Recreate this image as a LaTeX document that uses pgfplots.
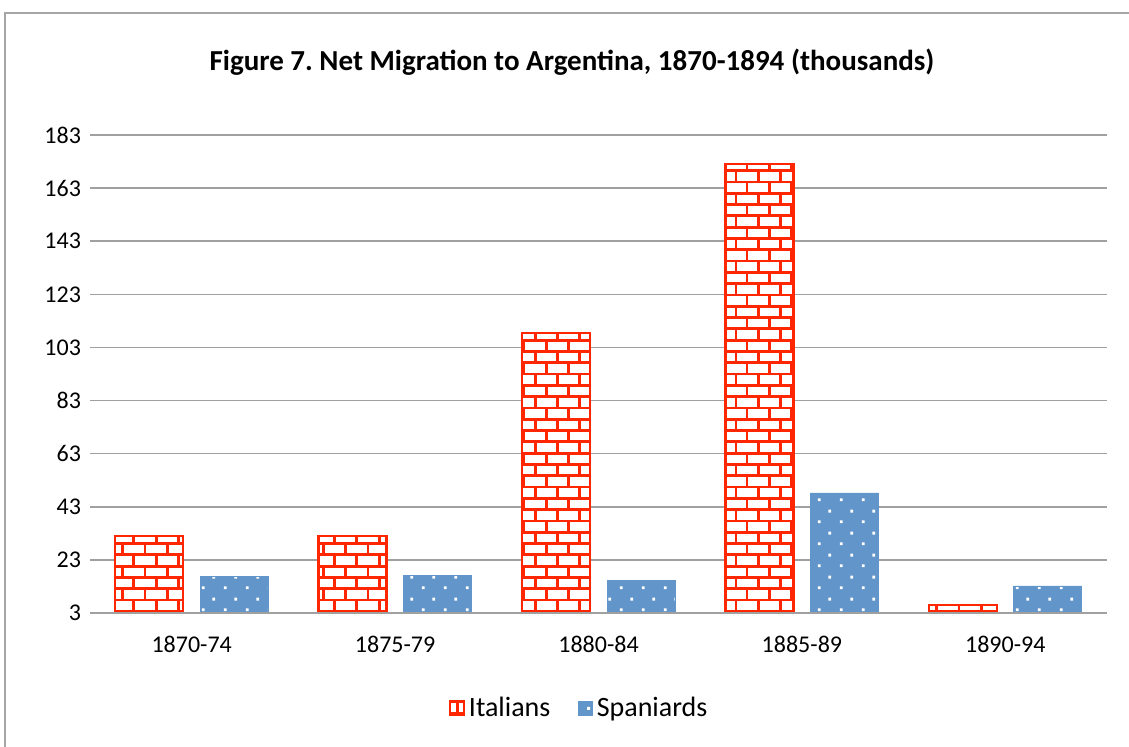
\documentclass[border=0pt]{standalone}
\usepackage{fontspec}
\setmainfont{Carlito}
\usepackage{pgfplots}
\pgfplotsset{compat=1.18}
\usetikzlibrary{patterns.meta}

\definecolor{itred}{RGB}{255,38,0}
\definecolor{spblue}{RGB}{98,149,201}
\definecolor{gridgray}{RGB}{160,160,160}

% brick pattern for the Italians
\pgfdeclarepattern{
  name=redbricks, type=uncolored,
  bottom left={\pgfqpoint{-0.8pt}{-0.8pt}},
  top right={\pgfqpoint{11.95pt}{12.1pt}},
  tile size={\pgfqpoint{11.15pt}{11.3pt}},
  code={
    \pgfsetlinewidth{1.4pt}
    \pgfpathmoveto{\pgfqpoint{0pt}{0pt}}\pgfpathlineto{\pgfqpoint{11.15pt}{0pt}}
    \pgfpathmoveto{\pgfqpoint{0pt}{5.65pt}}\pgfpathlineto{\pgfqpoint{11.15pt}{5.65pt}}
    \pgfpathmoveto{\pgfqpoint{0pt}{0pt}}\pgfpathlineto{\pgfqpoint{0pt}{5.65pt}}
    \pgfpathmoveto{\pgfqpoint{5.575pt}{5.65pt}}\pgfpathlineto{\pgfqpoint{5.575pt}{11.3pt}}
    \pgfusepath{stroke}
  }
}
% dotted pattern for the Spaniards
\pgfdeclarepattern{
  name=whitedots, type=uncolored,
  bottom left={\pgfqpoint{0pt}{0pt}},
  top right={\pgfqpoint{11pt}{11pt}},
  tile size={\pgfqpoint{11pt}{11pt}},
  code={
    \pgfpathrectangle{\pgfqpoint{2pt}{2pt}}{\pgfqpoint{1.5pt}{1.5pt}}
    \pgfpathrectangle{\pgfqpoint{7.5pt}{7.5pt}}{\pgfqpoint{1.5pt}{1.5pt}}
    \pgfusepath{fill}
  }
}

\begin{document}
\begin{tikzpicture}
\path[use as bounding box] (-45pt,-67pt) rectangle (519.5pt,306.5pt);
\draw[gray!70, line width=0.8pt] (-42.5pt,-67pt) -- (-42.5pt,300pt) -- (519.5pt,300pt);
\node[font=\bfseries\fontsize{14.5}{17}\selectfont] at (241pt,275.5pt)
  {Figure 7.\ Net Migration to Argentina, 1870-1894 (thousands)};
\begin{axis}[
    at={(0pt,0pt)}, anchor=south west,
    scale only axis,
    width=508.5pt, height=239pt,
    ybar=8.5pt, bar width=34pt,
    xmin=-0.5, xmax=4.5,
    ymin=3, ymax=183,
    xtick={0,1,2,3,4},
    xticklabels={1870-74,1875-79,1880-84,1885-89,1890-94},
    ytick={3,23,...,183},
    ymajorgrids,
    grid style={gridgray, line width=0.8pt},
    axis line style={draw=none},
    major tick length=0pt,
    tick label style={font=\fontsize{12}{14}\selectfont},
    xticklabel style={yshift=-8pt},
    yticklabel style={xshift=-1pt},
    /pgf/number format/assume math mode=true,
    legend style={at={(0.482,-0.199)}, anchor=center, draw=none,
        legend columns=-1, font=\fontsize{14}{16}\selectfont,
        /tikz/every even column/.append style={column sep=12pt}},
    legend image code/.code={\draw[#1] (0pt,-3.4pt) rectangle (6.8pt,3.4pt);},
]
\addplot[draw=itred, line width=1.2pt, fill=white,
    postaction={pattern=redbricks, pattern color=itred}]
    coordinates {(0,32) (1,32) (2,108.4) (3,172) (4,6)};
\addplot[draw=spblue, fill=spblue,
    postaction={pattern=whitedots, pattern color=white}]
    coordinates {(0,16.9) (1,17) (2,15.4) (3,48.2) (4,13.2)};
\draw[gridgray, line width=0.8pt] (axis cs:-0.5,3) -- (axis cs:4.5,3);
\legend{Italians, Spaniards}
\end{axis}
\end{tikzpicture}
\end{document}
